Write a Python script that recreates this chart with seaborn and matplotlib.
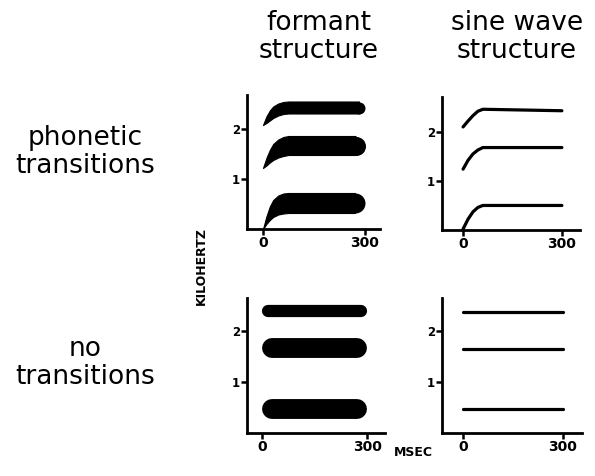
import numpy as np
import pandas as pd
import matplotlib
matplotlib.use("Agg")
import matplotlib.pyplot as plt
import seaborn as sns

# ---------------- data (kHz vs ms) ----------------
end_ms = 300
# formant bands with transitions: upper / lower edges read at these times
trans_t = [0, 10, 20, 30, 45, 60, 75]
f3_upper = [2.08, 2.25, 2.37, 2.45, 2.51, 2.54, 2.55]
f3_lower = [2.08, 2.12, 2.17, 2.22, 2.27, 2.30, 2.31]
f2_upper = [1.22, 1.42, 1.58, 1.70, 1.79, 1.84, 1.86]
f2_lower = [1.22, 1.27, 1.33, 1.38, 1.43, 1.46, 1.48]
f1_upper = [0.00, 0.25, 0.45, 0.58, 0.67, 0.71, 0.72]
f1_lower = [0.00, 0.10, 0.18, 0.24, 0.29, 0.31, 0.32]

# steady formant bands (no transitions): centre and bandwidth
steady_centre = [0.47, 1.67, 2.39]
steady_width = [0.39, 0.39, 0.24]

# sine-wave tones with transitions
sw_t = [0, 15, 30, 45, 60, 300]
sw3 = [2.10, 2.22, 2.33, 2.42, 2.46, 2.43]
sw2 = [1.24, 1.42, 1.55, 1.63, 1.68, 1.68]
sw1 = [0.02, 0.22, 0.37, 0.46, 0.50, 0.50]

# steady sine-wave tones
sw_flat_t = [0, 300]
sw_flat = [0.48, 1.65, 2.37]

col_titles = ["formant\nstructure", "sine wave\nstructure"]
row_titles = ["phonetic\ntransitions", "no\ntransitions"]
xticks = [0, 300]
yticks = [1, 2]

# ---------------- figure ----------------
sns.set_theme(style="white")
plt.rcParams["font.family"] = ["DejaVu Sans"]
plt.rcParams["text.color"] = "black"
plt.rcParams["axes.labelcolor"] = "black"
plt.rcParams["xtick.color"] = "black"
plt.rcParams["ytick.color"] = "black"
W, H = 595, 476
fig = plt.figure(figsize=(W / 100, H / 100), dpi=100)
fig.patch.set_facecolor("white")


def make_ax(l, r, t, b, xlim, ylim):
    ax = fig.add_axes([l / W, (H - b) / H, (r - l) / W, (b - t) / H])
    ax.set_xlim(*xlim)
    ax.set_ylim(*ylim)
    ax.set_facecolor("white")
    for s in ["top", "right"]:
        ax.spines[s].set_visible(False)
    for s in ["left", "bottom"]:
        ax.spines[s].set_linewidth(2.0)
        ax.spines[s].set_color("black")
    ax.set_xticks(xticks)
    ax.set_yticks(yticks)
    ax.tick_params(axis="both", direction="out", length=4, width=1.8,
                   color="black", labelcolor="black", left=True, bottom=True)
    ax.tick_params(axis="x", pad=1, labelsize=10)
    ax.tick_params(axis="y", pad=1, labelsize=8.5)
    for lab in ax.get_xticklabels() + ax.get_yticklabels():
        lab.set_fontweight("bold")
    ax.grid(False)
    return ax


ax_tl = make_ax(247, 380, 95, 229, (-47, 344), (0, 2.68))
ax_bl = make_ax(247, 385, 298, 433, (-43, 351), (0, 2.65))
ax_tr = make_ax(442, 580, 97, 230, (-64, 355), (0, 2.71))
ax_br = make_ax(442, 582, 298, 433, (-63, 357), (0, 2.65))


def px_scales(ax):
    p0 = ax.transData.transform((0, 0))
    px_ms = ax.transData.transform((1, 0))[0] - p0[0]
    px_khz = ax.transData.transform((0, 1))[1] - p0[1]
    return px_ms, px_khz


# --- top-left: formant bands with transitions ---
px_ms, px_khz = px_scales(ax_tl)
for up, lo in [(f1_upper, f1_lower), (f2_upper, f2_lower), (f3_upper, f3_lower)]:
    thick = up[-1] - lo[-1]
    r_ms = thick * px_khz / 2 / px_ms
    t_end = end_ms - r_ms
    tt = trans_t + [t_end]
    uu = up + [up[-1]]
    ll = lo + [lo[-1]]
    ax_tl.fill_between(tt, ll, uu, color="black", linewidth=0.8,
                       edgecolor="black")
    diam_pt = thick * px_khz * 72 / 100
    sns.scatterplot(x=[t_end], y=[(up[-1] + lo[-1]) / 2], ax=ax_tl,
                    s=diam_pt ** 2, color="black", marker="o",
                    linewidth=0, legend=False)

# --- bottom-left: steady formant bands ---
px_ms, px_khz = px_scales(ax_bl)
for c, w in zip(steady_centre, steady_width):
    r_ms = w * px_khz / 2 / px_ms
    df = pd.DataFrame({"t": [r_ms, end_ms - r_ms], "f": [c, c]})
    sns.lineplot(data=df, x="t", y="f", ax=ax_bl, color="black",
                 linewidth=w * px_khz * 72 / 100, solid_capstyle="round",
                 estimator=None, sort=False, legend=False)

# --- top-right: sine waves with transitions ---
for ys in [sw1, sw2, sw3]:
    df = pd.DataFrame({"t": sw_t, "f": ys})
    sns.lineplot(data=df, x="t", y="f", ax=ax_tr, color="black",
                 linewidth=2.3, estimator=None, sort=False, legend=False,
                 solid_capstyle="round", solid_joinstyle="round")

# --- bottom-right: steady sine waves ---
for v in sw_flat:
    df = pd.DataFrame({"t": sw_flat_t, "f": [v, v]})
    sns.lineplot(data=df, x="t", y="f", ax=ax_br, color="black",
                 linewidth=2.3, estimator=None, sort=False, legend=False)

for ax in [ax_tl, ax_bl, ax_tr, ax_br]:
    ax.set_xlabel("")
    ax.set_ylabel("")

# ---------------- text ----------------
fs = 19
fig.text(319 / W, 1 - 37 / H, col_titles[0], ha="center", va="center",
         fontsize=fs, linespacing=1.1, color="black")
fig.text(517 / W, 1 - 37 / H, col_titles[1], ha="center", va="center",
         fontsize=fs, linespacing=1.1, color="black")
fig.text(85 / W, 1 - 152 / H, row_titles[0], ha="center", va="center",
         fontsize=fs, linespacing=1.1, color="black")
fig.text(85 / W, 1 - 363 / H, row_titles[1], ha="center", va="center",
         fontsize=fs, linespacing=1.1, color="black")
fig.text(201 / W, 1 - 266 / H, "KILOHERTZ", ha="center", va="center",
         rotation=90, fontsize=9, fontweight="bold", color="black")
fig.text(413 / W, 1 - 453 / H, "MSEC", ha="center", va="center",
         fontsize=9, fontweight="bold", color="black")

fig.savefig("out.png", dpi=100, facecolor="white")
